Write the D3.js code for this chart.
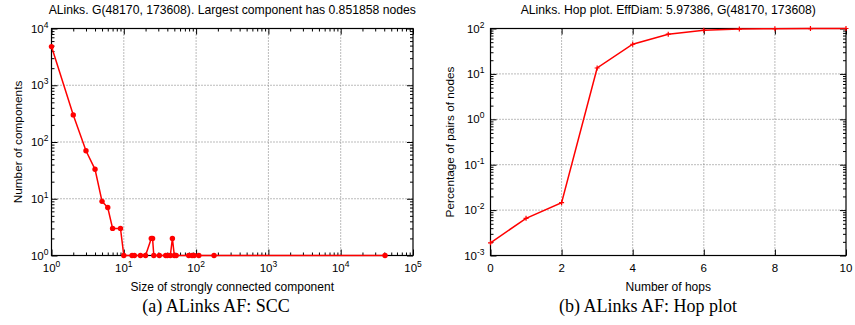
<!DOCTYPE html>
<html>
<head>
<meta charset="utf-8">
<script src="https://cdn.jsdelivr.net/npm/d3@7"></script>
<style>
  body { margin: 0; background: #fff; }
  svg { display: block; }
  .tick-label, .axis-title, .plot-title { font-family: "Liberation Sans", Arial, sans-serif; fill: #000; }
  .caption { font-family: "Liberation Serif", "Times New Roman", serif; font-size: 18px; fill: #000; }
</style>
</head>
<body>
<div id="chart"></div>
<script>
// SCC size distribution (left panel)
const sccSize = [1, 2, 3, 4, 5, 6, 7, 9, 10, 13, 14, 17, 20, 24, 25, 26, 31, 38, 40, 44, 47, 50, 53, 79, 88, 94, 109, 177, 41034];
const sccCount = [4800, 300, 70, 33, 9, 7, 3, 3, 1, 1, 1, 1, 1, 2, 2, 1, 1, 1, 1, 1, 2, 1, 1, 1, 1, 1, 1, 1, 1];

// hop plot (right panel)
const hops = [0, 1, 2, 3, 4, 5, 6, 7, 8, 9, 10];
const hopPct = [0.0019, 0.0066, 0.0146, 13.5, 45, 75, 91, 97, 99, 99.8, 100];

const xTicksLeft = [1, 10, 100, 1000, 10000, 100000];
const yTicksLeft = [1, 10, 100, 1000, 10000];
const xTicksRight = [0, 2, 4, 6, 8, 10];
const yTicksRight = [0.001, 0.01, 0.1, 1, 10, 100];

const W = 855, H = 325;
const svg = d3.select("#chart").append("svg").attr("width", W).attr("height", H);

function logMinor(domain) {
  const out = [];
  const lo = Math.round(Math.log10(domain[0])), hi = Math.round(Math.log10(domain[1]));
  for (let e = lo; e < hi; e++) {
    for (let m = 2; m <= 9; m++) out.push(m * Math.pow(10, e));
  }
  return out;
}

function supLabel(sel, v) {
  const e = Math.round(Math.log10(v));
  sel.append("tspan").text("10");
  sel.append("tspan").attr("dy", -5).style("font-size", "8.5px").text(e);
}

function panel(opt) {
  const g = svg.append("g");
  const { x, y, left, right } = opt;
  const pTop = opt.top, pBottom = opt.bottom;

  // grid
  g.selectAll(".gx").data(opt.xTicks.slice(1, -1)).enter().append("line")
    .attr("x1", (d) => x(d)).attr("x2", (d) => x(d))
    .attr("y1", pTop).attr("y2", pBottom)
    .attr("stroke", "#777").attr("stroke-width", 1).attr("stroke-dasharray", "1,2");
  g.selectAll(".gy").data(opt.yTicks.slice(1, -1)).enter().append("line")
    .attr("y1", (d) => y(d)).attr("y2", (d) => y(d))
    .attr("x1", left).attr("x2", right)
    .attr("stroke", "#777").attr("stroke-width", 1).attr("stroke-dasharray", "1,2");

  // inward ticks on all four sides (gnuplot style)
  const major = 6, minor = 3;
  const bAx = d3.axisBottom(x).tickValues(opt.xTicks).tickSize(-major).tickFormat("");
  const tAx = d3.axisTop(x).tickValues(opt.xTicks).tickSize(-major).tickFormat("");
  const lAx = d3.axisLeft(y).tickValues(opt.yTicks).tickSize(-major).tickFormat("");
  const rAx = d3.axisRight(y).tickValues(opt.yTicks).tickSize(-major).tickFormat("");
  [[bAx, `translate(0,${pBottom})`], [tAx, `translate(0,${pTop})`], [lAx, `translate(${left},0)`], [rAx, `translate(${right},0)`]]
    .forEach(([ax, tr]) => {
      const a = g.append("g").attr("transform", tr).call(ax);
      a.select(".domain").remove();
      a.selectAll("line").attr("stroke", "#000");
    });
  if (opt.xMinor) {
    [[d3.axisBottom(x), pBottom], [d3.axisTop(x), pTop]].forEach(([ax, p]) => {
      const a = g.append("g").attr("transform", `translate(0,${p})`)
        .call(ax.tickValues(opt.xMinor).tickSize(-minor).tickFormat(""));
      a.select(".domain").remove();
      a.selectAll("line").attr("stroke", "#000");
    });
  }
  if (opt.yMinor) {
    [[d3.axisLeft(y), left], [d3.axisRight(y), right]].forEach(([ax, p]) => {
      const a = g.append("g").attr("transform", `translate(${p},0)`)
        .call(ax.tickValues(opt.yMinor).tickSize(-minor).tickFormat(""));
      a.select(".domain").remove();
      a.selectAll("line").attr("stroke", "#000");
    });
  }

  // tick labels
  g.selectAll(".xl").data(opt.xTicks).enter().append("text")
    .attr("class", "tick-label").style("font-size", "11.5px")
    .attr("x", (d) => x(d)).attr("y", pBottom + 16)
    .attr("text-anchor", "middle")
    .each(function (d) {
      if (opt.xLog) supLabel(d3.select(this), d);
      else d3.select(this).text(d);
    });
  g.selectAll(".yl").data(opt.yTicks).enter().append("text")
    .attr("class", "tick-label").style("font-size", "11.5px")
    .attr("x", left - opt.yLabelGap).attr("y", (d) => y(d) + 4)
    .attr("text-anchor", "end")
    .each(function (d) { supLabel(d3.select(this), d); });

  // frame
  g.append("rect").attr("x", left).attr("y", pTop)
    .attr("width", right - left).attr("height", pBottom - pTop)
    .attr("fill", "none").attr("stroke", "#000").attr("stroke-width", 1.2);

  // data
  const line = d3.line().x((d) => x(d[0])).y((d) => y(d[1]));
  const pts = opt.xs.map((v, i) => [v, opt.ys[i]]);
  g.append("path").datum(pts).attr("d", line)
    .attr("fill", "none").attr("stroke", "#f00").attr("stroke-width", 1.5);
  if (opt.marker === "circle") {
    g.selectAll(".pt").data(pts).enter().append("circle")
      .attr("cx", (d) => x(d[0])).attr("cy", (d) => y(d[1])).attr("r", 2.7)
      .attr("fill", "#f00");
  } else {
    g.selectAll(".pt").data(pts).enter().append("path")
      .attr("d", (d) => `M${x(d[0]) - 2.5},${y(d[1])}h5M${x(d[0])},${y(d[1]) - 2.5}v5`)
      .attr("stroke", "#f00").attr("stroke-width", 1.2);
  }

  // titles
  const cx = (left + right) / 2;
  g.append("text").attr("class", "plot-title").style("font-size", "12.2px")
    .attr("x", cx).attr("y", pTop - 15).attr("text-anchor", "middle").text(opt.title);
  g.append("text").attr("class", "axis-title").style("font-size", "12px")
    .attr("x", cx).attr("y", pBottom + 35).attr("text-anchor", "middle").text(opt.xTitle);
  g.append("text").attr("class", "axis-title").style("font-size", "11.8px")
    .attr("transform", `translate(${opt.yTitleX},${(pTop + pBottom) / 2}) rotate(-90)`)
    .attr("text-anchor", "middle").text(opt.yTitle);
  g.append("text").attr("class", "caption")
    .attr("x", opt.captionX).attr("y", 312).attr("text-anchor", "middle").text(opt.caption);
}

const plotTop = 28.5, plotBottom = 255.5;

const xL = d3.scaleLog().domain([1, 100000]).range([51.5, 413]);
const yL = d3.scaleLog().domain([1, 10000]).range([plotBottom, plotTop]);
panel({
  x: xL, y: yL, left: 51.5, right: 413, top: plotTop, bottom: plotBottom,
  xTicks: xTicksLeft, yTicks: yTicksLeft, xLog: true,
  xMinor: logMinor(xL.domain()), yMinor: logMinor(yL.domain()),
  xs: sccSize, ys: sccCount, marker: "circle", yLabelGap: 3,
  title: "ALinks. G(48170, 173608). Largest component has 0.851858 nodes",
  xTitle: "Size of strongly connected component",
  yTitle: "Number of components", yTitleX: 21.5,
  caption: "(a) ALinks AF: SCC", captionX: 216
});

const xR = d3.scaleLinear().domain([0, 10]).range([490.5, 846]);
const yR = d3.scaleLog().domain([0.001, 100]).range([plotBottom, plotTop]);
panel({
  x: xR, y: yR, left: 490.5, right: 846, top: plotTop, bottom: plotBottom,
  xTicks: xTicksRight, yTicks: yTicksRight, xLog: false,
  xMinor: null, yMinor: logMinor(yR.domain()),
  xs: hops, ys: hopPct, marker: "plus", yLabelGap: 6,
  title: "ALinks. Hop plot. EffDiam: 5.97386, G(48170, 173608)",
  xTitle: "Number of hops",
  yTitle: "Percentage of pairs of nodes", yTitleX: 453.5,
  caption: "(b) ALinks AF: Hop plot", captionX: 648
});
</script>
</body>
</html>
